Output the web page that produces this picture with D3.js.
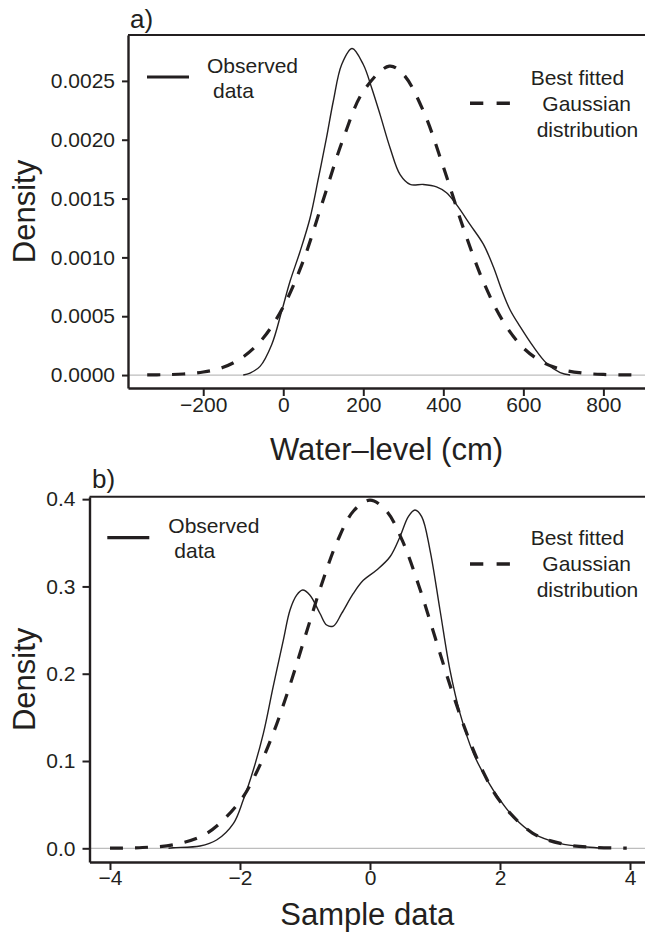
<!DOCTYPE html>
<html>
<head>
<meta charset="utf-8">
<script src="https://cdn.jsdelivr.net/npm/d3@7"></script>
<style>
  body { margin: 0; background: #fff; }
  svg { display: block; }
</style>
</head>
<body>
<svg id="chart" width="645" height="932"></svg>
<script>
// ---- Panel a: water-level density (kernel estimate vs. fitted Gaussian) ----
const waterObsX = [-100, -83, -58, -29, -4, 17, 42, 67, 88, 108, 125, 146, 172, 200, 221, 242, 267, 292, 317, 350, 383, 408, 433, 467, 500, 525, 546, 567, 592, 625, 658, 692, 717];
const waterObsY = [0, 0.000017, 0.000074, 0.000258, 0.000542, 0.000797, 0.00105, 0.001335, 0.001675, 0.002015, 0.002327, 0.002639, 0.002775, 0.002639, 0.00244, 0.002213, 0.00193, 0.001703, 0.00162, 0.00162, 0.0016, 0.00155, 0.001448, 0.001278, 0.001112, 0.000921, 0.000723, 0.000553, 0.000411, 0.000241, 0.0001, 0.00002, 0];
const waterFitX = [-340, -300, -250, -200, -150, -100, -50, 0, 50, 100, 150, 200, 265, 300, 350, 400, 450, 500, 550, 600, 650, 700, 750, 800, 872];
const waterFitY = [0.000001, 0.000003, 0.000009, 0.000026, 0.000066, 0.000155, 0.000315, 0.00058, 0.00097, 0.00149, 0.00201, 0.00241, 0.002625, 0.002556, 0.002245, 0.00177, 0.00125, 0.000794, 0.000453, 0.000231, 0.000106, 0.000044, 0.000016, 0.000005, 0.000001];
const waterXTicks = [-200, 0, 200, 400, 600, 800];
const waterYTicks = [0, 0.0005, 0.001, 0.0015, 0.002, 0.0025];

// ---- Panel b: sample data density vs. standard normal ----
const sampleObsX = [-3.1, -3.03, -2.615, -2.36, -2.1, -1.95, -1.795, -1.64, -1.49, -1.333, -1.23, -1.128, -1.036, -0.923, -0.769, -0.667, -0.564, -0.436, -0.256, -0.103, 0.103, 0.308, 0.462, 0.59, 0.692, 0.795, 0.923, 1.077, 1.23, 1.385, 1.59, 1.795, 2.0, 2.205, 2.51, 2.92, 3.33, 3.6];
const sampleObsY = [0, 0.0007, 0.0026, 0.0095, 0.0286, 0.0553, 0.0897, 0.1317, 0.185, 0.2386, 0.273, 0.29, 0.2959, 0.29, 0.269, 0.2558, 0.2546, 0.269, 0.292, 0.307, 0.3188, 0.334, 0.357, 0.38, 0.3875, 0.38, 0.3417, 0.273, 0.2043, 0.1546, 0.1088, 0.079, 0.0553, 0.0362, 0.0172, 0.0057, 0.0015, 0.0002];
const sampleFitX = [-4, -3.5, -3, -2.5, -2, -1.75, -1.5, -1.25, -1, -0.75, -0.5, -0.25, 0, 0.25, 0.5, 0.75, 1, 1.25, 1.5, 1.75, 2, 2.5, 3, 3.5, 3.95];
const sampleFitY = [0.0001, 0.0009, 0.0044, 0.0175, 0.054, 0.0863, 0.1295, 0.1826, 0.242, 0.3011, 0.3521, 0.3867, 0.3989, 0.3867, 0.3521, 0.3011, 0.242, 0.1826, 0.1295, 0.0863, 0.054, 0.0175, 0.0044, 0.0009, 0.0002];
const sampleXTicks = [-4, -2, 0, 2, 4];
const sampleYTicks = [0, 0.1, 0.2, 0.3, 0.4];

const legendObserved = ["Observed", "data"];
const legendFitted = ["Best fitted", "Gaussian", "distribution"];

const FONT = "'Liberation Sans', Arial, Helvetica, sans-serif";
const INK = "#231f20";

const panels = [
  {
    tag: "a)", tagX: 130, tagY: 28,
    left: 128, right: 645, top: 35, bottom: 388,
    xDomain: [-388, 904], yDomain: [-0.00011, 0.00289],
    xTicks: waterXTicks, yTicks: waterYTicks,
    xFormat: d3.format("d"), yFormat: d3.format(".4f"),
    obsX: waterObsX, obsY: waterObsY, fitX: waterFitX, fitY: waterFitY,
    xTitle: "Water\u2013level (cm)", xTitleY: 460, yTitleX: 35,
    xPad: 1, yTick: 6, yPad: 7,
    leg: { solidX: 147, solidY: 77, obsX: 207, obsY: 72.5, dashY: 103.3, fitY: 85 }
  },
  {
    tag: "b)", tagX: 92, tagY: 488,
    left: 89.5, right: 645, top: 496.7, bottom: 862,
    xDomain: [-4.315, 4.2308], yDomain: [-0.0157, 0.4028],
    xTicks: sampleXTicks, yTicks: sampleYTicks,
    xFormat: d3.format("d"), yFormat: d3.format(".1f"),
    obsX: sampleObsX, obsY: sampleObsY, fitX: sampleFitX, fitY: sampleFitY,
    xTitle: "Sample data", xTitleY: 925, yTitleX: 35,
    xPad: 0, yTick: 7, yPad: 7,
    leg: { solidX: 107.3, solidY: 537.7, obsX: 168.3, obsY: 532.7, dashY: 564, fitY: 545 }
  }
];

const svg = d3.select("#chart");

panels.forEach(p => {
  const x = d3.scaleLinear().domain(p.xDomain).range([p.left, p.right]);
  const y = d3.scaleLinear().domain(p.yDomain).range([p.bottom, p.top]);
  const g = svg.append("g");

  // reference line at zero density
  g.append("line")
    .attr("x1", p.left).attr("x2", p.right)
    .attr("y1", y(0)).attr("y2", y(0))
    .attr("stroke", "#bdbdbd").attr("stroke-width", 1.2);

  const line = d3.line().x(d => x(d[0])).y(d => y(d[1])).curve(d3.curveCatmullRom.alpha(0.5));

  // observed kernel density
  g.append("path")
    .datum(p.obsX.map((v, i) => [v, p.obsY[i]]))
    .attr("d", line)
    .attr("fill", "none").attr("stroke", INK).attr("stroke-width", 1.4);

  // fitted Gaussian
  g.append("path")
    .datum(p.fitX.map((v, i) => [v, p.fitY[i]]))
    .attr("d", line)
    .attr("fill", "none").attr("stroke", INK).attr("stroke-width", 3.2)
    .attr("stroke-dasharray", "13,12");

  // axes
  const ax = g.append("g").attr("transform", `translate(0,${p.bottom})`)
    .call(d3.axisBottom(x).tickValues(p.xTicks).tickFormat(p.xFormat)
      .tickSize(8).tickSizeOuter(0).tickPadding(p.xPad));
  const ay = g.append("g").attr("transform", `translate(${p.left},0)`)
    .call(d3.axisLeft(y).tickValues(p.yTicks).tickFormat(p.yFormat)
      .tickSize(p.yTick).tickSizeOuter(0).tickPadding(p.yPad));
  [ax, ay].forEach(a => {
    a.attr("font-family", FONT).attr("font-size", 21);
    a.selectAll("text").attr("fill", INK);
    a.selectAll(".tick line").attr("stroke", INK).attr("stroke-width", 2);
    a.select(".domain").attr("stroke", INK).attr("stroke-width", 2.4);
  });

  // top frame line
  g.append("line")
    .attr("x1", p.left).attr("x2", p.right)
    .attr("y1", p.top).attr("y2", p.top)
    .attr("stroke", INK).attr("stroke-width", 2);

  // titles
  g.append("text")
    .attr("x", (p.left + p.right) / 2).attr("y", p.xTitleY)
    .attr("text-anchor", "middle")
    .attr("font-family", FONT).attr("font-size", 31).attr("fill", INK)
    .text(p.xTitle);
  g.append("text")
    .attr("transform", `translate(${p.yTitleX},${(p.top + p.bottom) / 2}) rotate(-90)`)
    .attr("text-anchor", "middle")
    .attr("font-family", FONT).attr("font-size", 31).attr("fill", INK)
    .text("Density");
  g.append("text")
    .attr("x", p.tagX).attr("y", p.tagY)
    .attr("font-family", FONT).attr("font-size", 26).attr("fill", INK)
    .text(p.tag);

  // legends
  const L = p.leg;
  g.append("line")
    .attr("x1", L.solidX).attr("x2", L.solidX + 42)
    .attr("y1", L.solidY).attr("y2", L.solidY)
    .attr("stroke", INK).attr("stroke-width", 3.2);
  legendObserved.forEach((t, i) => {
    g.append("text")
      .attr("x", L.obsX + (i ? 6 : 0)).attr("y", L.obsY + i * 25.5)
      .attr("font-family", FONT).attr("font-size", 21).attr("fill", INK)
      .text(t);
  });
  g.append("line")
    .attr("x1", 470).attr("x2", 510)
    .attr("y1", L.dashY).attr("y2", L.dashY)
    .attr("stroke", INK).attr("stroke-width", 3.4)
    .attr("stroke-dasharray", "13.3,13.3");
  const fitOffsets = [530.7, 542.3, 536.7];
  legendFitted.forEach((t, i) => {
    g.append("text")
      .attr("x", fitOffsets[i]).attr("y", L.fitY + i * 25.8)
      .attr("font-family", FONT).attr("font-size", 21).attr("fill", INK)
      .text(t);
  });
});
</script>
</body>
</html>
